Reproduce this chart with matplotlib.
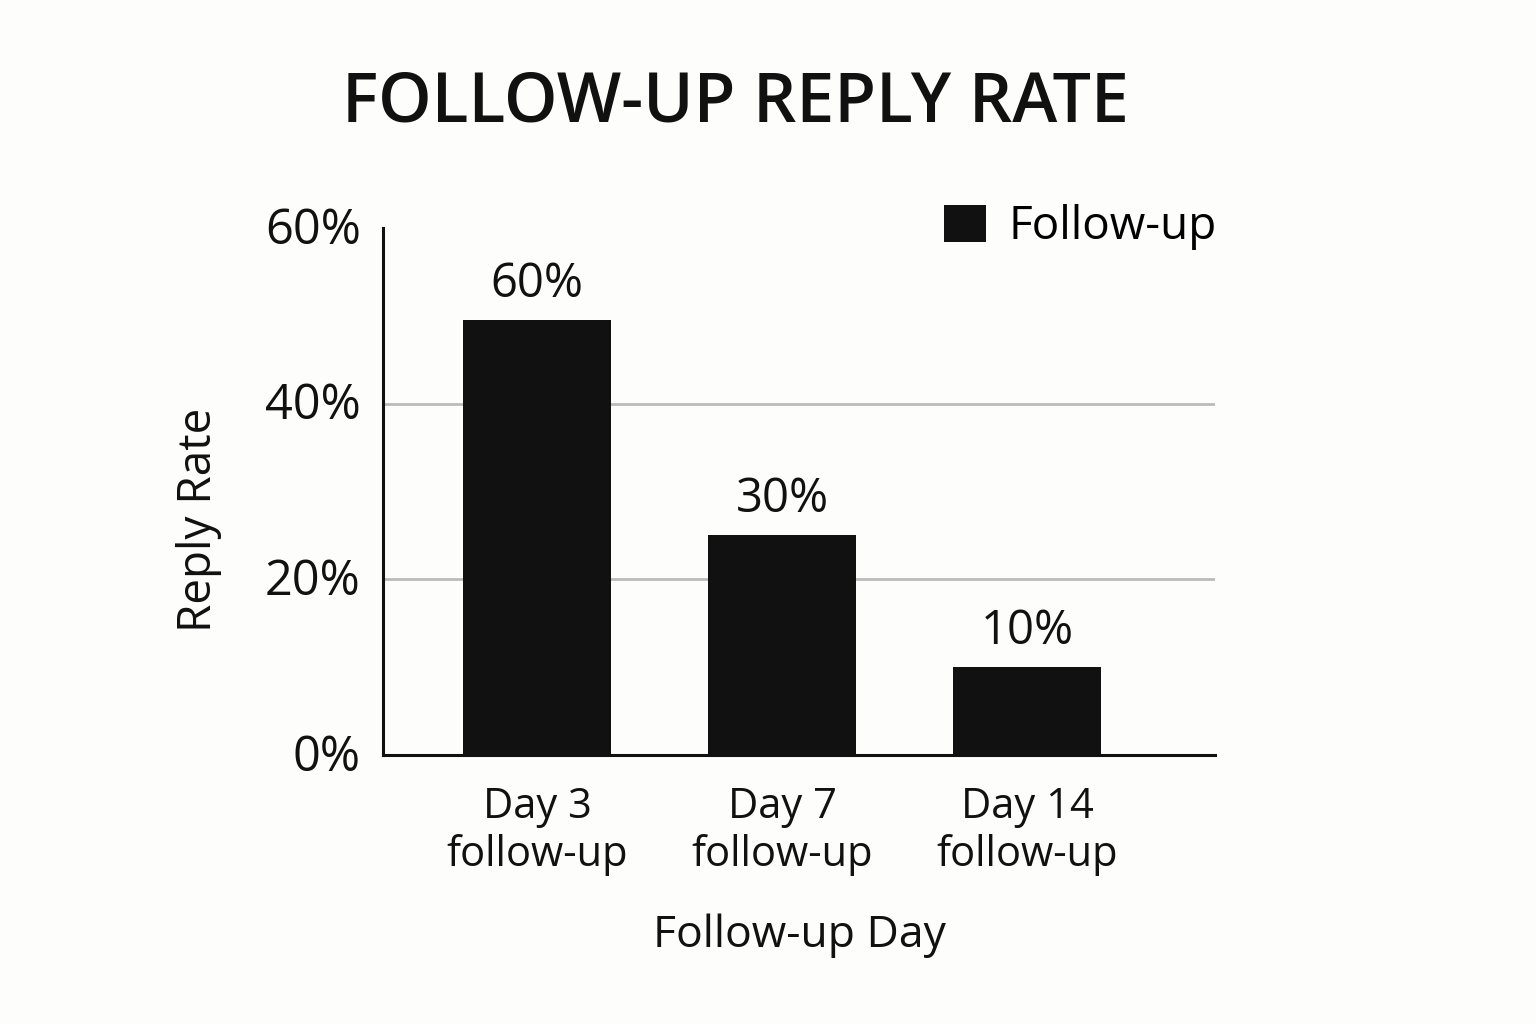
import matplotlib.pyplot as plt
from matplotlib.transforms import ScaledTranslation

plt.rcParams['font.family'] = ['Open Sans', 'DejaVu Sans']

categories = ['Day 3\nfollow-up', 'Day 7\nfollow-up', 'Day 14\nfollow-up']
bar_heights = [49.5, 25.0, 10.0]  # heights as drawn against the axis
bar_labels = ['60%', '30%', '10%']  # labels printed above the bars
yticks = [0, 20, 40, 60]
ytick_labels = ['0%', '20%', '40%', '60%']

bg = '#fdfdfc'
ink = '#111111'

fig = plt.figure(figsize=(15.36, 10.24), dpi=100, facecolor=bg)
ax = fig.add_axes([0.2493, 0.2627, 0.5417, 0.5146], facecolor=bg)

x = list(range(len(categories)))
bars = ax.bar(x, bar_heights, width=0.604, color=ink, zorder=3, label='Follow-up')

for rect, lab in zip(bars, bar_labels):
    ax.annotate(lab, (rect.get_x() + rect.get_width() / 2, rect.get_height()),
                xytext=(0, 9), textcoords='offset points',
                ha='center', va='bottom', fontsize=34, color=ink)

ax.set_xlim(-0.629, 2.767)
ax.set_ylim(0, 60)
ax.set_yticks(yticks)
ax.set_yticklabels(ytick_labels, fontsize=35, color=ink, va='center')
ax.set_xticks(x)
ax.set_xticklabels(categories, fontsize=30, color=ink, linespacing=1.2)
ax.tick_params(axis='y', length=0, pad=16)
ax.tick_params(axis='x', length=0, pad=22)
shift = ScaledTranslation(0, -2 / 72, fig.dpi_scale_trans)
for t in ax.get_yticklabels():
    t.set_transform(t.get_transform() + shift)

for y in [20, 40]:
    ax.axhline(y, color='#bbbbbb', lw=2, zorder=1)

for s in ['top', 'right']:
    ax.spines[s].set_visible(False)
for s in ['left', 'bottom']:
    ax.spines[s].set_linewidth(2.2)
    ax.spines[s].set_color(ink)

ax.set_ylabel('Reply Rate', fontsize=33, color=ink)
ax.set_xlabel('Follow-up Day', fontsize=32, color=ink, labelpad=27)
ax.yaxis.set_label_coords(-0.194, 0.446)

fig.text(0.4785, 0.898, 'FOLLOW-UP REPLY RATE', ha='center', va='center',
         fontsize=49, fontweight='semibold', color=ink)

leg = ax.legend(loc='upper right', bbox_to_anchor=(1.052, 1.123), frameon=False,
                fontsize=33, handlelength=0.92, handleheight=0.87, handletextpad=0.5)

fig.savefig('out.png', dpi=100, facecolor=bg)
